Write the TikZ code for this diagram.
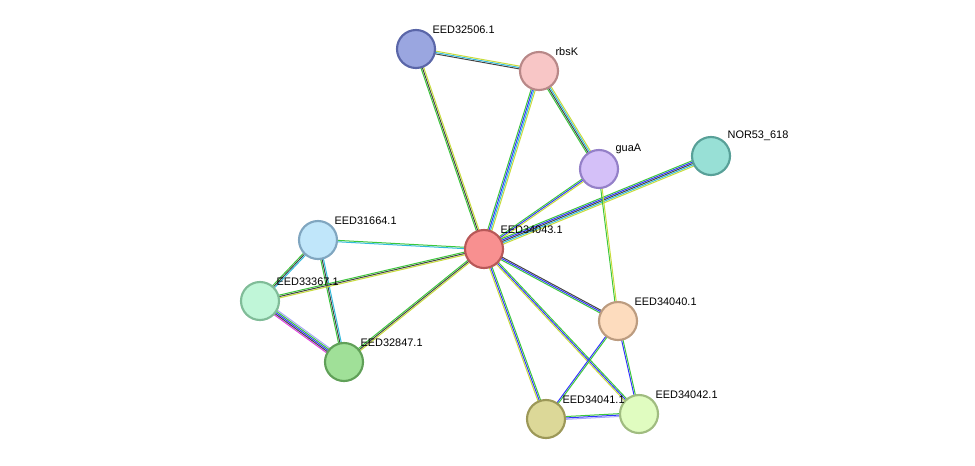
\documentclass[tikz,border=0pt]{standalone}
\usepackage{fontspec}
\setmainfont{Liberation Sans}
\usetikzlibrary{calc,backgrounds}
\definecolor{eg}{HTML}{3DC73D}
\definecolor{eb}{HTML}{3333FF}
\definecolor{ek}{HTML}{444444}
\definecolor{ec}{HTML}{33BBDD}
\definecolor{ey}{HTML}{C8DC3C}
\definecolor{em}{HTML}{E040E0}
\definecolor{el}{HTML}{A8A8F8}
\definecolor{f1}{HTML}{9AA6E0}\definecolor{d1}{HTML}{5A66A8}
\definecolor{f2}{HTML}{F8C6C6}\definecolor{d2}{HTML}{B88888}
\definecolor{f3}{HTML}{D4C0F8}\definecolor{d3}{HTML}{9480C8}
\definecolor{f4}{HTML}{98E0D6}\definecolor{d4}{HTML}{58A098}
\definecolor{f5}{HTML}{C0E6FA}\definecolor{d5}{HTML}{80A6C0}
\definecolor{f6}{HTML}{F89090}\definecolor{d6}{HTML}{B85858}
\definecolor{f7}{HTML}{C0F6D8}\definecolor{d7}{HTML}{80BC98}
\definecolor{f8}{HTML}{A0E098}\definecolor{d8}{HTML}{60A058}
\definecolor{f9}{HTML}{FDDCBE}\definecolor{d9}{HTML}{BC9C80}
\definecolor{f10}{HTML}{DCD898}\definecolor{d10}{HTML}{9C9858}
\definecolor{f11}{HTML}{E0FCC0}\definecolor{d11}{HTML}{A0BC80}
\newcommand\sedge[4]{\foreach \c [count=\i] in {#4}{\pgfmathsetmacro\o{(\i-(#3+1)/2)*1.05}\draw[\c,line width=0.75pt] ($(#1)!\o pt!90:(#2)$) -- ($(#2)!\o pt!-90:(#1)$);}}
\tikzset{
 prot/.style={circle,minimum size=28.5pt,inner sep=0pt,line width=1.6pt,fill=f#1,draw=d#1},
 lab/.style={font=\fontsize{8.2pt}{9pt}\selectfont,anchor=south west,inner sep=1pt}
}
\begin{document}
\begin{tikzpicture}[x=0.75pt,y=-0.75pt]
\useasboundingbox (0,0) rectangle (975,465);
\node[prot=1] (n1) at (416,49) {};
\node[prot=2] (n2) at (539,71) {};
\node[prot=3] (n3) at (599,169) {};
\node[prot=4] (n4) at (711,156) {};
\node[prot=5] (n5) at (318,240) {};
\node[prot=6] (n6) at (484,249) {};
\node[prot=7] (n7) at (260,301) {};
\node[prot=8] (n8) at (344,362) {};
\node[prot=9] (n9) at (618,321) {};
\node[prot=10] (n10) at (546,419) {};
\node[prot=11] (n11) at (639,414) {};
\begin{pgfonlayer}{background}
\sedge{n1}{n2}{3}{ek,ec,ey}
\sedge{n1}{n6}{3}{eg,ek,ey}
\sedge{n2}{n6}{4}{eg,eb,ec,ey}
\sedge{n2}{n3}{4}{eg,ek,ec,ey}
\sedge{n3}{n6}{3}{eg,eb,ey}
\sedge{n4}{n6}{5}{eg,eb,ek,ec,ey}
\sedge{n3}{n9}{2}{eg,ey}
\sedge{n5}{n6}{2}{ec,eg}
\sedge{n5}{n7}{3}{eg,ek,ec}
\sedge{n5}{n8}{3}{eg,ek,ec}
\sedge{n7}{n6}{3}{ey,ek,eg}
\sedge{n7}{n8}{5}{em,ek,eb,eg,el}
\sedge{n8}{n6}{3}{ey,ek,eg}
\sedge{n6}{n9}{3}{eg,eb,ek}
\sedge{n6}{n10}{3}{ey,eb,eg}
\sedge{n6}{n11}{3}{ey,eb,eg}
\sedge{n9}{n10}{2}{eb,eg}
\sedge{n9}{n11}{2}{eb,eg}
\sedge{n10}{n11}{3}{el,eb,eg}
\end{pgfonlayer}
\node[lab] at (431,35) {EED32506.1};
\node[lab] at (554,57) {rbsK};
\node[lab] at (614,155) {guaA};
\node[lab] at (726,142) {NOR53\_618};
\node[lab] at (333,226) {EED31664.1};
\node[lab] at (499,235) {EED34043.1};
\node[lab] at (275,287) {EED33367.1};
\node[lab] at (359,348) {EED32847.1};
\node[lab] at (633,307) {EED34040.1};
\node[lab] at (561,405) {EED34041.1};
\node[lab] at (654,400) {EED34042.1};
\end{tikzpicture}
\end{document}
